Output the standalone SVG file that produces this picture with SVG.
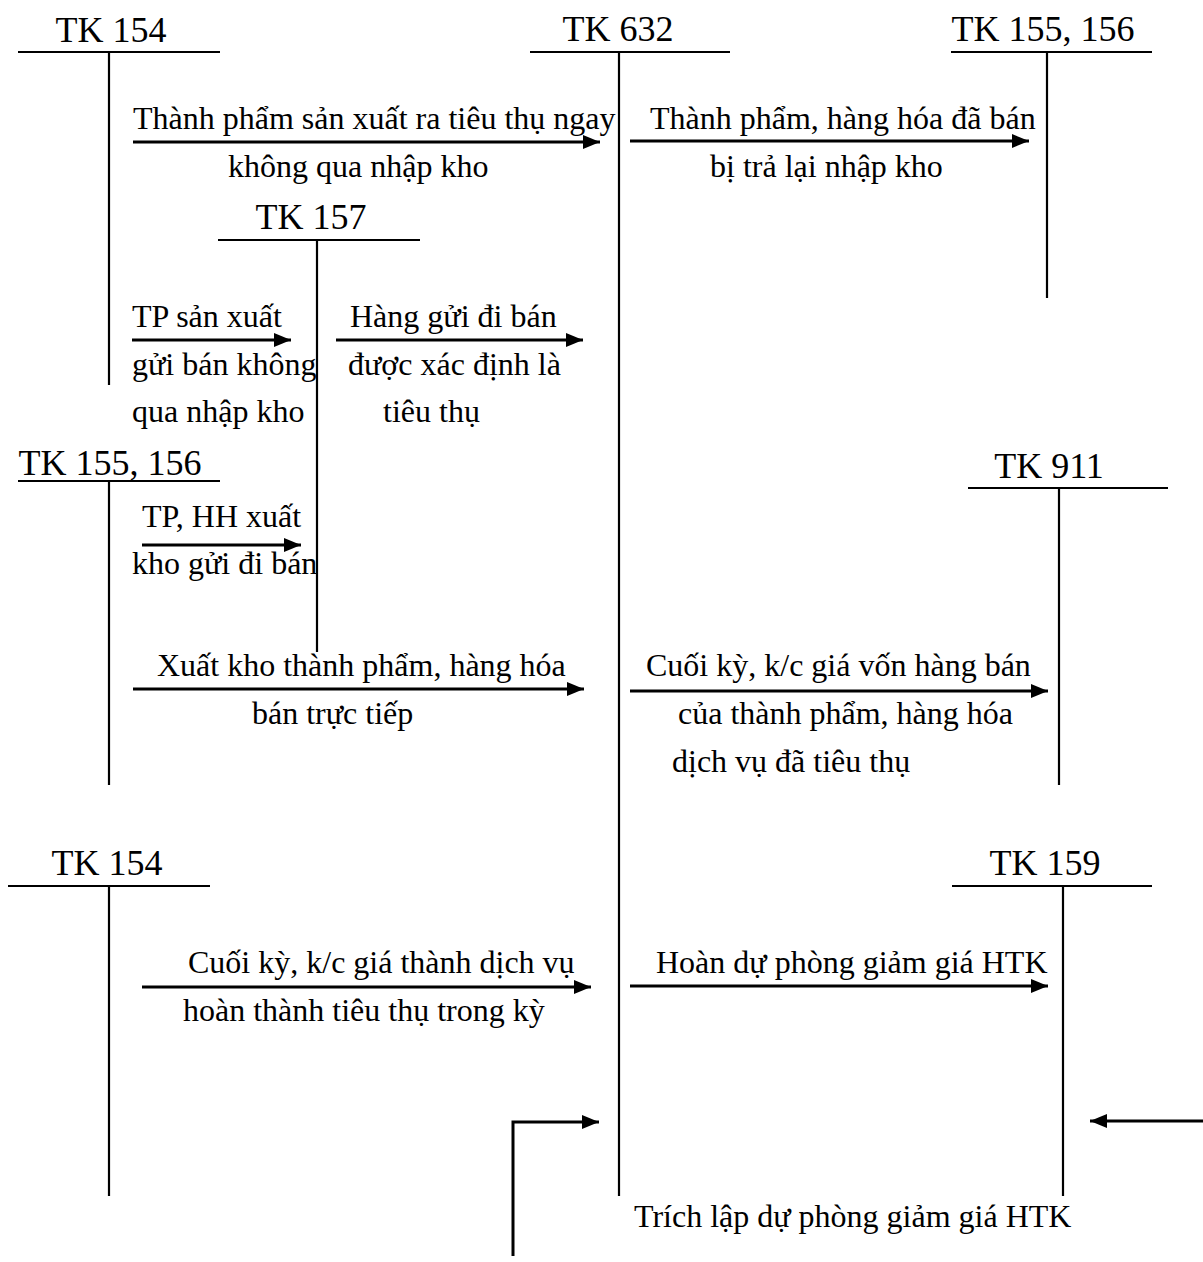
<svg xmlns="http://www.w3.org/2000/svg" width="1203" height="1262" viewBox="0 0 1203 1262">
<defs>
<style>
.t{font-family:"Liberation Serif","Times New Roman",serif;font-size:36px;fill:#000}
.l{font-family:"Liberation Serif","Times New Roman",serif;font-size:32px;fill:#000}
.acc{stroke:#000;stroke-width:2.2;fill:none}
.arr{stroke:#000;stroke-width:3;fill:none;marker-end:url(#ah)}
</style>
<marker id="ah" markerUnits="userSpaceOnUse" markerWidth="17" markerHeight="14" refX="17" refY="7" orient="auto">
<path d="M0,0 L17,7 L0,14 Z" fill="#000"/>
</marker>
</defs>
<rect width="1203" height="1262" fill="#fff"/>

<g id="tk154-top">
<text class="t" x="111" y="42" text-anchor="middle">TK 154</text>
<path class="acc" d="M18,52 H220 M109,52 V385"/>
</g>
<g id="tk632">
<text class="t" x="618" y="41" text-anchor="middle">TK 632</text>
<path class="acc" d="M530,52 H730 M619,52 V1196"/>
</g>
<g id="tk155-156-top">
<text class="t" x="1043" y="41" text-anchor="middle">TK 155, 156</text>
<path class="acc" d="M951,52 H1152 M1047,52 V298"/>
</g>
<g id="tk157">
<text class="t" x="311" y="229" text-anchor="middle">TK 157</text>
<path class="acc" d="M218,240 H420 M317,240 V652"/>
</g>
<g id="tk155-156-left">
<text class="t" x="110" y="475" text-anchor="middle">TK 155, 156</text>
<path class="acc" d="M18,481 H220 M109,481 V785"/>
</g>
<g id="tk911">
<text class="t" x="1049" y="478" text-anchor="middle">TK 911</text>
<path class="acc" d="M968,488 H1168 M1059,488 V785"/>
</g>
<g id="tk154-bottom">
<text class="t" x="107" y="875" text-anchor="middle">TK 154</text>
<path class="acc" d="M8,886 H210 M109,886 V1196"/>
</g>
<g id="tk159">
<text class="t" x="1045" y="875" text-anchor="middle">TK 159</text>
<path class="acc" d="M952,886 H1152 M1063,886 V1196"/>
</g>

<g id="connectors">
<line class="arr" x1="133" y1="142" x2="600" y2="142"/>
<line class="arr" x1="630" y1="141" x2="1029" y2="141"/>
<line class="arr" x1="132" y1="340" x2="291" y2="340"/>
<line class="arr" x1="336" y1="340" x2="583" y2="340"/>
<line class="arr" x1="142" y1="545" x2="301" y2="545"/>
<line class="arr" x1="133" y1="689" x2="584" y2="689"/>
<line class="arr" x1="630" y1="691" x2="1048" y2="691"/>
<line class="arr" x1="142" y1="987" x2="591" y2="987"/>
<line class="arr" x1="630" y1="986" x2="1048" y2="986"/>
<path class="arr" d="M513,1256 V1122 H599"/>
<line class="arr" x1="1203" y1="1121" x2="1090" y2="1121"/>
</g>

<g id="labels">
<text class="l" x="133" y="129">Thành phẩm sản xuất ra tiêu thụ ngay</text>
<text class="l" x="228" y="177">không qua nhập kho</text>
<text class="l" x="650" y="129">Thành phẩm, hàng hóa đã bán</text>
<text class="l" x="710" y="177">bị trả lại nhập kho</text>
<text class="l" x="132" y="327">TP sản xuất</text>
<text class="l" x="132" y="375">gửi bán không</text>
<text class="l" x="132" y="422">qua nhập kho</text>
<text class="l" x="350" y="327">Hàng gửi đi bán</text>
<text class="l" x="348" y="375">được xác định là</text>
<text class="l" x="383" y="422">tiêu thụ</text>
<text class="l" x="142" y="527">TP, HH xuất</text>
<text class="l" x="132" y="574">kho gửi đi bán</text>
<text class="l" x="157" y="676">Xuất kho thành phẩm, hàng hóa</text>
<text class="l" x="252" y="724">bán trực tiếp</text>
<text class="l" x="646" y="676">Cuối kỳ, k/c giá vốn hàng bán</text>
<text class="l" x="678" y="724">của thành phẩm, hàng hóa</text>
<text class="l" x="672" y="772">dịch vụ đã tiêu thụ</text>
<text class="l" x="188" y="973">Cuối kỳ, k/c giá thành dịch vụ</text>
<text class="l" x="183" y="1021">hoàn thành tiêu thụ trong kỳ</text>
<text class="l" x="656" y="973">Hoàn dự phòng giảm giá HTK</text>
<text class="l" x="634" y="1227">Trích lập dự phòng giảm giá HTK</text>
</g>
</svg>
